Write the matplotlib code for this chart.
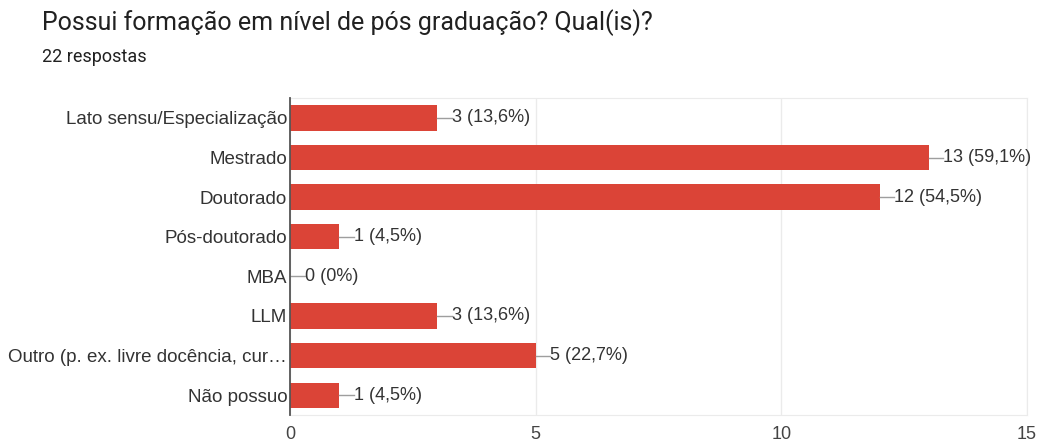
## horizontal bar chart of answers about post-graduate education (Google Forms style)

import matplotlib
matplotlib.use("Agg")
from matplotlib import pyplot as plt
import numpy as np

categorias = ["Lato sensu/Especialização", "Mestrado", "Doutorado", "Pós-doutorado",
              "MBA", "LLM", "Outro (p. ex. livre docência, cur…", "Não possuo"]
contagens = [3, 13, 12, 1, 0, 3, 5, 1]
rotulos = ["3 (13,6%)", "13 (59,1%)", "12 (54,5%)", "1 (4,5%)",
           "0 (0%)", "3 (13,6%)", "5 (22,7%)", "1 (4,5%)"]
xticks = [0, 5, 10, 15]

plt.rcParams['font.family'] = ['Liberation Sans', 'DejaVu Sans']

fig = plt.figure(figsize=(10.4, 4.44), dpi=100)
ax = fig.add_axes([0.2788, 0.0653, 0.7087, 0.7137])

y = np.arange(len(categorias))
ax.barh(y, contagens, height=0.64, color="#db4437", zorder=3)

## little leader line + value text at the end of each bar
for yi, c, r in zip(y, contagens, rotulos):
    ax.plot([c, c + 0.3], [yi, yi], color="#9e9e9e", lw=1, zorder=3, clip_on=False)
    ax.text(c + 0.3, yi, r, va="center", ha="left", fontsize=13, color="#333333")

ax.set_xlim(0, 15)
ax.set_ylim(len(categorias) - 0.5, -0.5)
ax.set_yticks(y)
ax.set_yticklabels(categorias, fontsize=13.5, color="#333333")
ax.set_xticks(xticks)
ax.set_xticklabels([str(t) for t in xticks], fontsize=13, color="#444444")
ax.tick_params(axis="y", length=0, pad=2)
ax.tick_params(axis="x", length=0, pad=8)
ax.grid(axis="x", color="#ebebeb", lw=1, zorder=0)

for s in ["top", "right", "bottom"]:
    ax.spines[s].set_color("#ebebeb")
ax.spines["left"].set_color("#555555")
ax.spines["left"].set_linewidth(1.3)
ax.spines["left"].set_zorder(4)

fig.text(0.04, 0.95, "Possui formação em nível de pós graduação? Qual(is)?",
         fontsize=18, color="#212121", va="center", family=["Roboto", "DejaVu Sans"])
fig.text(0.04, 0.872, "22 respostas", fontsize=13, color="#212121", va="center",
         family=["Roboto", "DejaVu Sans"])

plt.savefig("out.png", dpi=100)
